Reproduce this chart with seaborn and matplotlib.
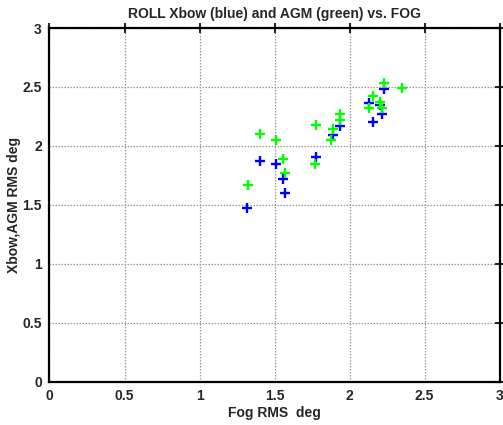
import matplotlib
matplotlib.use("Agg")
import matplotlib.pyplot as plt
import seaborn as sns
import pandas as pd

fog_blue = [1.317, 1.403, 1.512, 1.557, 1.570, 1.777, 1.888, 1.939, 2.128, 2.157, 2.203, 2.213, 2.230]
xbow = [1.47, 1.87, 1.85, 1.72, 1.60, 1.91, 2.09, 2.17, 2.36, 2.20, 2.35, 2.27, 2.48]

fog_green = [1.321, 1.403, 1.512, 1.557, 1.570, 1.770, 1.777, 1.877, 1.888, 1.937, 1.937,
             2.130, 2.159, 2.203, 2.213, 2.230, 2.350]
agm = [1.67, 2.10, 2.05, 1.89, 1.77, 1.85, 2.18, 2.05, 2.14, 2.22, 2.27,
       2.32, 2.42, 2.375, 2.32, 2.53, 2.49]

xticks = [0, 0.5, 1, 1.5, 2, 2.5, 3]
xtick_labels = ["0", "0.5", "1", "1.5", "2", "2.5", "3"]
yticks = [0, 0.5, 1, 1.5, 2, 2.5, 3]
ytick_labels = ["0", "0.5", "1", "1.5", "2", "2.5", "3"]

sns.set_style("white")
plt.rcParams['font.family'] = ['Liberation Sans', 'DejaVu Sans']
plt.rcParams['font.weight'] = 'bold'

fig = plt.figure(figsize=(5.03, 4.25), dpi=100)
ax = fig.add_axes([0.0984, 0.102, 0.895, 0.832])

df_b = pd.DataFrame({"x": fog_blue, "y": xbow})
df_g = pd.DataFrame({"x": fog_green, "y": agm})
sns.scatterplot(data=df_b, x="x", y="y", ax=ax, marker="+", color="#0000ff",
                s=42, linewidth=1.7, zorder=3)
sns.scatterplot(data=df_g, x="x", y="y", ax=ax, marker="+", color="#00ff00",
                s=42, linewidth=1.7, zorder=3)

ax.set_xlim(0, 3)
ax.set_ylim(0, 3)
ax.set_xticks(xticks)
ax.set_xticklabels(xtick_labels, fontsize=10, fontweight='bold')
ax.set_yticks(yticks)
ax.set_yticklabels(ytick_labels, fontsize=10, fontweight='bold')
ax.grid(True, linestyle=(0, (1.2, 1.2)), color="#999999", linewidth=0.9)
ax.tick_params(direction='inout', length=7, width=1.5, top=True, right=True,
               labeltop=False, labelright=False, pad=2)
for s in ax.spines.values():
    s.set_visible(True)
    s.set_color("black")
    s.set_linewidth(1.6)

ax.set_xlabel("Fog RMS  deg", fontsize=10, fontweight='bold', labelpad=2)
ax.set_ylabel("Xbow,AGM RMS deg", fontsize=10, fontweight='bold', labelpad=1)
ax.set_title("ROLL Xbow (blue) and AGM (green) vs. FOG", fontsize=10, fontweight='bold', pad=7)

fig.savefig("out.png", dpi=100)
